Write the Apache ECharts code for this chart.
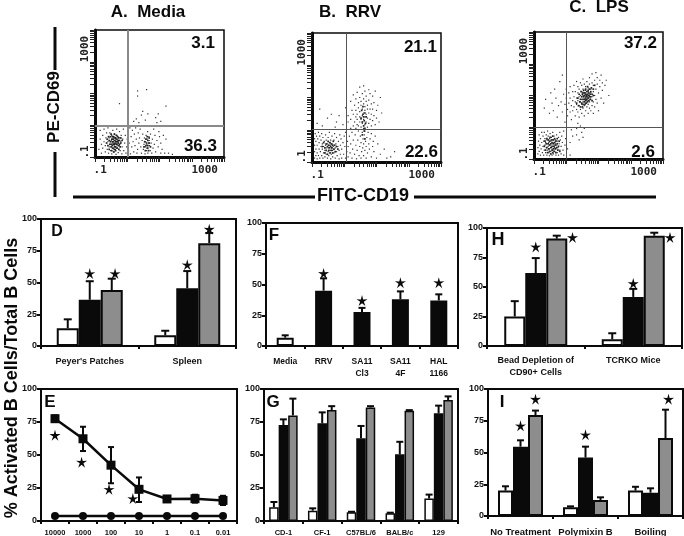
<!DOCTYPE html>
<html><head><meta charset="utf-8">
<script src="https://cdn.jsdelivr.net/npm/echarts@6/dist/echarts.min.js"></script>
<style>html,body{margin:0;padding:0;background:#fff}#c{width:684px;height:536px}</style></head>
<body><div id="c"></div>
<script>
// ---------- flow cytometry events (log-channel, 0-100 of each axis)
const flowADots = [[3,6],[4,14],[4,21],[5,3],[5,10],[6,17],[6,7],[7,12],[7,22],[8,4],[8,9],[8.5,15],[9,19],[9.5,6],[10,12],[10,23],[10.5,3],[11,8],[11,15],[11.5,19],[12,5],[12.3,10],[12.6,13],[13,2.5],[13,17],[13.4,7],[13.8,21],[14,11],[14.2,15],[14.7,4],[15,8.5],[15.2,18],[15.8,6],[16,14],[16.3,2],[16.5,10],[16.8,22],[17,17],[17.4,7],[17.8,12.5],[18,3.5],[18.2,15.5],[18.8,9],[19,20],[19.5,5],[20,12],[20.3,17],[20.8,2.5],[21,8],[21.5,14],[22,22],[22.3,5],[23,11],[23.5,17],[24,3],[24.5,8],[25,14],[25.5,20],[26,5],[26.5,11],[27,23],[27.5,2.5],[28,16],[28.5,8],[29,21],[29.5,12],[30,4],[30.5,18],[31,9],[31.5,23],[32,14],[32.5,3],[33,6],[33.5,19],[34,11],[34.5,15],[35,22],[35.5,8],[36,3],[36.5,13],[37,18],[37.5,6],[38,10],[38.3,15],[38.8,2.5],[39,8],[39.2,12],[39.6,17],[40,5],[40.2,9.5],[40.5,14],[40.8,20],[41,3],[41.2,7],[41.5,11],[41.8,16],[42,13],[42.3,9],[42.8,5],[43,18],[43.5,11],[44,3],[44.5,14],[45,7],[45.5,22],[46,10],[46.5,17],[47,4],[48,13],[49,8],[49.5,20],[50,16],[51,3],[51,11],[52,24],[52,6],[53,17],[54,3],[55,14],[57,3],[60,2],[30,28],[32,30],[34,27],[36,33],[37,36],[39,29],[41,34],[47,31],[48,27],[49,34],[51,28],[33,48],[33,52],[40,53],[55,40],[19,42]];
const flowACore = [[9,11],[9.5,14],[10,9],[10.5,16],[11,13],[11,6],[11.5,10],[12,16],[12,12],[12.5,8],[12.5,18],[13,10],[13,14],[13,5],[13.5,9],[13.5,12],[13.5,16],[14,7],[14,12],[14,14],[14.5,10],[14.5,16],[14.5,4],[15,6],[15,10],[15,13],[15,18],[15.5,8],[15.5,11],[15.5,15],[16,8],[16,12.5],[16,15],[16,5],[16.5,10],[16.5,12],[16.5,17],[17,7],[17,10],[17,14],[17.5,12],[17.5,16],[18,9],[18,11],[18,13],[18.5,6],[18.5,15],[19,10],[19,13],[19.5,8],[20,11],[20,15],[21,13],[38,8],[38.5,12],[39,5],[39.5,9],[39.5,14],[40,11],[40.5,7],[40.5,16],[41,9],[41,13],[41.5,5],[42,11],[42,15],[43,8]];
const flowBDots = [[2,3],[2,8],[2,13],[2,18],[2.5,22],[3,5],[3,10],[3,16],[3.5,20],[4,2.5],[4,7],[4,13],[4.5,18],[5,23],[5,5],[5.5,10],[5.5,15],[6,20],[6,3],[6.5,8],[7,12],[7,17],[7.5,5],[7.5,22],[8,10],[8,14],[8.5,3],[8.5,19],[9,7],[9,12],[9.5,16],[10,4],[10,9],[10.5,13],[10.5,21],[11,6],[11,17],[11.5,11],[12,3],[12,14],[12.5,8],[12.5,19],[13,5],[13,11],[13.5,15],[13.5,23],[14,9],[14,13],[14.5,2.5],[14.5,17],[15,6],[15,11],[15.5,14],[15.5,20],[16,4],[16,9],[16.5,12],[17,17],[17,7],[17.5,22],[18,3],[18,11],[18.5,14],[19,8],[19,19],[19.5,5],[20,12],[20.5,16],[21,2.5],[21,9],[21.5,21],[22,6],[22,13],[22.5,18],[23,3],[23,10],[24,15],[24.5,6],[25,20],[25.5,12],[26,3],[26,23],[27,8],[27.5,16],[28,4],[28,12],[29,20],[29.5,7],[30,14],[31,3],[31,23],[31.5,10],[32,17],[33,6],[33.5,21],[34,13],[34.5,2.5],[35,9],[35.5,17],[36,24],[36.5,5],[37,12],[37.5,20],[38,3],[38,15],[38.5,8],[39,23],[39.3,11],[39.6,18],[40,5],[40,14],[40.5,21],[41,9],[41,24],[41.5,16],[42,3],[42,12],[42.5,19],[43,7],[43.5,23],[44,14],[44.5,10],[45,18],[46,4],[46,22],[47,12],[47.5,16],[48,8],[49,20],[50,3],[51,14],[53,6],[56,10],[58,3],[61,4],[64,8],[4,30],[6,41],[8,28],[12,34],[15,37],[18,27],[19,31],[21,36],[24,29],[26,42],[28,31],[28,36],[30,26],[30,33],[30,47],[31,40],[32,28],[32,37],[32,52],[33,31],[33,44],[34,26],[34,35],[34,40],[34,49],[35,29],[35,33],[35,37],[35,54],[36,42],[36,46],[36,28],[37,31],[37,35],[37,39],[37,50],[37,58],[38,27],[38,44],[38,33],[38,47],[39,30],[39,36],[39,41],[39,53],[40,26],[40,33],[40,38],[40,45],[40,49],[40,59],[41,29],[41,35],[41,40],[41,43],[41,55],[42,31],[42,37],[42,47],[42,51],[43,27],[43,34],[43,41],[43,44],[44,30],[44,38],[44,48],[44,56],[45,33],[45,41],[45,53],[46,28],[46,37],[46,45],[47,32],[47,41],[47,51],[48,36],[48,46],[49,29],[49,55],[50,40],[50,34],[51,44],[52,31],[53,50],[54,38]];
const flowBCore = [[8,12],[9,15],[10,11],[10,7],[11,14],[11,9],[12,12],[12,6],[12.5,16],[13,9],[13,13],[13.5,11],[14,15],[14,7],[14.5,12],[15,9],[15,14],[15.5,11],[16,13],[16,7],[16.5,16],[17,10],[17.5,13],[18,8],[19,12],[20,10],[38,34],[39,31],[39.5,37],[40,28],[40,35],[40.5,32],[41,38],[41,26],[41.5,30],[42,35],[38.5,40],[39.5,43],[40.5,24],[39,21],[41,18]];
const flowCDots = [[3,4],[3,9],[3.5,14],[4,19],[4,6],[4.5,11],[5,3],[5,16],[5.5,8],[6,13],[6,21],[6.5,5],[7,10],[7,18],[7.5,3],[7.5,14],[8,7],[8,21],[8.5,11],[8.5,16],[9,5],[9,13],[9.5,9],[9.5,19],[10,3],[10,12],[10,15],[10.5,7],[10.5,22],[11,10],[11,18],[11.5,5],[11.5,13],[12,8],[12,16],[12,2.5],[12.5,11],[12.5,20],[13,6],[13,14],[13.5,9],[13.5,17],[14,3],[14,12],[14.5,7],[14.5,15],[14.5,21],[15,10],[15,4],[15.5,13],[15.5,18],[16,6],[16,9],[16.5,12],[16.5,15],[17,3],[17,8],[17.5,19],[17.5,11],[18,5],[18,14],[18.5,9],[19,17],[19,3],[19.5,12],[20,7],[20,21],[20.5,15],[21,10],[21,4],[21.5,18],[22,13],[22.5,7],[23,22],[23,3],[24,11],[24.5,16],[26,8],[28,13],[28,3],[30,18],[29,23],[33,19],[33,24],[35,15],[36,26],[37,21],[38,17],[39,24],[34,28],[8,40],[9,47],[12,36],[13,52],[14,44],[15,38],[16,55],[17,48],[18,33],[19,42],[20,61],[21,45],[22,66],[22,37],[23,51],[24,43],[24,29],[25,48],[25,55],[26,39],[26,34],[27,44],[27,52],[28,37],[28,48],[28,57],[29,42],[29,31],[30,46],[30,53],[30,38],[31,41],[31,49],[31,58],[32,34],[32,45],[32,53],[33,39],[33,43],[33,48],[33,61],[34,37],[34,46],[34,52],[34,57],[35,42],[35,49],[35,33],[35,55],[36,39],[36,45],[36,50],[36,60],[37,36],[37,43],[37,47],[37,53],[37,58],[38,40],[38,45],[38,50],[38,55],[38,63],[39,34],[39,42],[39,47],[39,52],[39,59],[40,38],[40,44],[40,49],[40,54],[40,57],[41,41],[41,46],[41,51],[41,61],[42,36],[42,43],[42,48],[42,53],[42,56],[43,40],[43,45],[43,50],[43,59],[43,64],[44,38],[44,47],[44,52],[44,55],[45,42],[45,49],[45,60],[45,67],[46,36],[46,45],[46,53],[46,58],[47,41],[47,50],[47,62],[48,47],[48,55],[48,68],[49,44],[49,59],[49,64],[50,52],[50,38],[51,57],[51,62],[52,48],[52,66],[53,54],[53,60],[54,44],[55,58],[56,62],[58,50]];
const flowCCore = [[8,10],[8.5,14],[9,7],[9.5,12],[10,16],[10,9],[10.5,5],[11,12],[11,15],[11.5,8],[12,11],[12,14],[12,6],[12.5,17],[13,9],[13,12],[13,4],[13.5,15],[14,7],[14,10],[14,13],[14.5,18],[14.5,5],[15,8],[15,12],[15,15],[15.5,10],[15.5,6],[16,13],[16,16],[16.5,8],[16.5,11],[17,5],[17,14],[17.5,9],[18,12],[18,16],[18.5,7],[19,10],[19.5,14],[20,6],[33,44],[34,48],[34.5,42],[35,51],[35.5,45],[36,47],[36,41],[36.5,53],[37,44],[37,49],[37.5,51],[37.5,41],[38,47],[38,43],[38,52],[38.5,49],[38.5,54],[39,45],[39,50],[39.5,47],[39.5,52],[39.5,43],[40,46],[40,48],[40,51],[40,55],[40.5,44],[40.5,50],[41,47],[41,49],[41,53],[41.5,45],[41.5,51],[41.5,57],[42,48],[42,50],[42,54],[42.5,46],[42.5,52],[43,49],[43,55],[43.5,51],[43.5,47],[44,53],[44,49],[44.5,56],[45,51],[45,46],[46,55],[46,50],[47,58]];
const quadX = [25.6, 26.4, 24.8], quadY = [24.4, 25.6, 25.2];
const flowTickLabels = ['.1', '1000'], flowLabelAt = [4, 85];
const decadeMultipliers = [1,2,3,4,5,6,7,8,9];
const flowTitles = ['A.  Media','B.  RRV','C.  LPS'];
const flowUL = ['3.1','21.1','37.2'], flowLR = ['36.3','22.6','2.6'];
// ---------- bar panels : [white, black, grey] with upper error bar tops
const catsD = ["Peyer's Patches","Spleen"];
const whiteD=[14,8.4], blackD=[36.4,45.5], greyD=[44,81];
const whiteDErr=[21,12], blackDErr=[51,59], greyDErr=[53,89];
const starsD=[[0,1,57,0],[0,2,57,.15],[1,1,64,0],[1,2,92,0]];
const catsF=['Media','RRV','SA11\nCl3','SA11\n4F','HAL\n1166'];
const valsF=[6.8,45,27.6,38,37], errF=[8.7,55,31,44.4,42];
const starsF=[[1,0,59,0],[2,0,37,0],[3,0,51.5,0],[4,0,51.5,0]];
const catsG=['CD-1','CF-1','C57BL/6','BALB/c','129'];
const whiteG=[10.4,7.8,6.6,5.8,17], blackG=[72.7,74,62.6,50.5,81.6], greyG=[80,84,86,83.6,91.7];
const whiteGErr=[14.4,9.6,7,6.3,20], blackGErr=[77,82.3,72,60,87.4], greyGErr=[92.7,87,87,84,94.4];
const catsH=['Bead Depletion of\nCD90+ Cells','TCRKO Mice'];
const whiteH=[25,5.7], blackH=[61.8,41.6], greyH=[91,93.5];
const whiteHErr=[38,10.8], blackHErr=[74.5,48.4], greyHErr=[93.5,96];
const starsH=[[0,1,84,0],[0,2,92,.75],[1,1,53,0],[1,2,92,.75]];
const catsI=['No Treatment','Polymixin B','Boiling'];
const whiteI=[20,6.8,20], blackI=[54.6,46,18.4], greyI=[79.5,12.6,61.4];
const whiteIErr=[23.4,7.6,23], blackIErr=[59.6,54.6,21.8], greyIErr=[83,14.7,83.7];
const starsI=[[0,1,71,0],[0,2,92,0],[1,1,64,0],[2,2,92,.2]];
const catsE=['10000','1000','100','10','1','0.1','0.01'];
const squaresE=[77.5,62.3,42.3,24,16.7,16.9,15.6];
const squaresELow=[75,53,28.6,14.4,14.7,13.9,12.1], squaresEHigh=[80,71.4,56,33,18.7,19.9,19.1];
const circlesE=[3.8,3.8,3.8,3.8,3.8,3.8,3.8];
const starsE=[[0,65,0],[1,44.6,-.05],[2,24,-.07],[3,17,-.22]];

const INK='#0a0a0a', GREY='#8d8d8d', FONT='"Liberation Sans",Arial,sans-serif';
const STAR='path://M10 0L12 7.25L19.5 6.9L13.2 11.05L15.9 18.1L10 13.4L4.1 18.1L6.8 11.05L.5 6.9L8 7.25Z';
const grid=[],xAxis=[],yAxis=[],series=[],graphic=[];

const decadeTicks=[];
for(let d=0;d<4;d++)for(const m of decadeMultipliers)decadeTicks.push(25*d+25*Math.log10(m));
decadeTicks.push(100);

function flowPanel(i,box){
  const g=grid.length;
  grid.push({left:box[0],top:box[1],width:box[2],height:box[3],outerBoundsMode:'none',show:true,borderColor:INK,borderWidth:1.5,backgroundColor:'transparent'});
  const axisBase={type:'value',min:0,max:100,splitLine:{show:false},gridIndex:g,
    axisLine:{show:true,onZero:false,lineStyle:{color:INK,width:3}},
    axisTick:{show:true,customValues:decadeTicks,length:5,inside:false,lineStyle:{color:'#222',width:1}},
    axisLabel:{show:true,customValues:flowLabelAt,formatter:v=>flowTickLabels[flowLabelAt.indexOf(v)]||'',
      fontFamily:'"DejaVu Sans Mono",monospace',fontWeight:'bold',fontSize:11,color:'#222',margin:8}};
  xAxis.push(axisBase);
  yAxis.push(Object.assign({},axisBase,{axisLabel:Object.assign({},axisBase.axisLabel,{rotate:90,margin:4})}));
  const a=xAxis.length-1;
  const sets=[[flowADots,flowBDots,flowCDots][i],[flowACore,flowBCore,flowCCore][i]];
  series.push({type:'scatter',xAxisIndex:a,yAxisIndex:a,data:sets[0],symbol:'rect',symbolSize:1.2,itemStyle:{color:'#333',opacity:1},silent:true,animation:false,
    markLine:{silent:true,symbol:'none',animation:false,label:{show:false},
      lineStyle:{color:i==0?'#8a8a8a':'#555',width:i==0?2:1,type:'solid',opacity:1},
      data:[{xAxis:quadX[i]},{yAxis:quadY[i]}]}});
  series.push({type:'scatter',xAxisIndex:a,yAxisIndex:a,data:sets[1],symbol:'rect',symbolSize:1.7,itemStyle:{color:'#222',opacity:1},silent:true,animation:false});
}
function addAxes(box,cats,labelSize,labelMargin){
  const g=grid.length;
  grid.push({left:box[0],top:box[1],width:box[2],height:box[3],outerBoundsMode:'none',show:true,borderColor:INK,borderWidth:2,backgroundColor:'transparent'});
  xAxis.push({type:'category',gridIndex:g,data:cats,
    axisLine:{onZero:false,lineStyle:{color:INK,width:2}},axisTick:{show:true,length:3,alignWithLabel:false,lineStyle:{color:INK,width:2}},
    axisLabel:{interval:0,fontFamily:FONT,fontWeight:'bold',fontSize:labelSize,color:'#111',margin:labelMargin,lineHeight:12}});
  const cat=xAxis.length-1;
  xAxis.push({type:'value',gridIndex:g,show:false,min:-.5,max:cats.length-.5});
  const val=xAxis.length-1;
  yAxis.push({type:'value',gridIndex:g,min:0,max:100,interval:25,splitLine:{show:false},
    axisLine:{show:true,onZero:false,lineStyle:{color:INK,width:2}},axisTick:{show:true,length:4,lineStyle:{color:INK,width:2}},
    axisLabel:{fontFamily:FONT,fontWeight:'bold',fontSize:9,color:'#111',margin:4}});
  const y=yAxis.length-1;
  return {cat,val,y};
}
function errorSeries(ax,rows,cap,both){
  series.push({type:'custom',xAxisIndex:ax.val,yAxisIndex:ax.y,z:4,silent:true,animation:false,data:rows,encode:{x:0,y:[1,2]},
    renderItem(p,api){
      const x=api.value(0),a=api.coord([x,api.value(1)]),b=api.coord([x,api.value(2)]);
      const st={stroke:INK,lineWidth:2,fill:null};
      const kids=[{type:'line',shape:{x1:a[0],y1:a[1],x2:b[0],y2:b[1]},style:st},
        {type:'line',shape:{x1:b[0]-cap,y1:b[1],x2:b[0]+cap,y2:b[1]},style:st}];
      if(both)kids.push({type:'line',shape:{x1:a[0]-cap,y1:a[1],x2:a[0]+cap,y2:a[1]},style:st});
      return {type:'group',children:kids};
    }});
}
function starSeries(ax,pts){
  series.push({type:'scatter',xAxisIndex:ax.val,yAxisIndex:ax.y,z:5,data:pts,symbol:STAR,symbolSize:11,itemStyle:{color:INK,opacity:1},silent:true,animation:false});
}
function barPanel(box,cats,vals,errs,stars,barW,cap,labelSize,margin,colors,border){
  const ax=addAxes(box,cats,labelSize,margin);
  const frac=barW/(box[2]/cats.length), n=vals.length, cols=['#fff',INK,GREY];
  vals.forEach((v,s)=>{
    series.push({type:'bar',xAxisIndex:ax.cat,yAxisIndex:ax.y,barWidth:barW,barGap:0,z:3,animation:false,silent:true,
      data:v.map((d,i)=>({value:d,itemStyle:{color:colors?colors[i]:cols[s],borderColor:INK,borderWidth:border||2}}))});
    errorSeries(ax,v.map((d,i)=>[i+(s-(n-1)/2)*frac,d,errs[s][i]]),cap,false);
  });
  starSeries(ax,stars.map(t=>[t[0]+(t[1]-(n-1)/2+t[3])*frac,t[2]]));
}
function text(str,x,y,size,opt){
  graphic.push(Object.assign({type:'text',x,y,silent:true,style:Object.assign({text:str,font:`bold ${size}px ${FONT}`,fill:INK,textAlign:'center',textVerticalAlign:'middle'},opt&&opt.style)},opt&&opt.el));
}
function rule(x1,y1,x2,y2){graphic.push({type:'line',silent:true,shape:{x1,y1,x2,y2},style:{stroke:INK,lineWidth:3}});}

flowPanel(0,[95,30,129,127]);
flowPanel(1,[312,33,129,129]);
flowPanel(2,[534,32,129,127]);

barPanel([41,219,195,127],catsD,[whiteD,blackD,greyD],[whiteDErr,blackDErr,greyDErr],starsD,22,4,9,10);
barPanel([266,223,192,123],catsF,[valsF],[errF],starsF,17,3.5,8.5,10,['#fff',INK,INK,INK,INK]);
barPanel([264,389,194,132],catsG,[whiteG,blackG,greyG],[whiteGErr,blackGErr,greyGErr],[],9.5,3.5,7.5,6,null,1.5);
barPanel([487,228,195,118],catsH,[whiteH,blackH,greyH],[whiteHErr,blackHErr,greyHErr],starsH,21,4,9,9);
barPanel([488,389,195,127],catsI,[whiteI,blackI,greyI],[whiteIErr,blackIErr,greyIErr],starsI,15,3.5,9.5,10);

// panel E: dose response
(function(){
  const ax=addAxes([41,389,196,132],catsE,7.5,6);
  series.push({type:'line',xAxisIndex:ax.cat,yAxisIndex:ax.y,data:circlesE,z:3,symbol:'circle',symbolSize:8,lineStyle:{color:INK,width:2.5},itemStyle:{color:INK},animation:false,silent:true});
  series.push({type:'line',xAxisIndex:ax.cat,yAxisIndex:ax.y,data:squaresE,z:3,symbol:'rect',symbolSize:9,lineStyle:{color:INK,width:2.5},itemStyle:{color:INK},animation:false,silent:true});
  errorSeries(ax,squaresE.map((v,i)=>[i,squaresELow[i],squaresEHigh[i]]),3,true);
  starSeries(ax,starsE.map(t=>[t[0]+t[2],t[1]]));
})();

// titles, quadrant percentages, shared axis titles, panel letters
text(flowTitles[0],148,12,17); text(flowTitles[1],350,12,17); text(flowTitles[2],599,7,17);
[[215,43,217,146],[437,47,438,152],[657,43,655,152]].forEach((p,i)=>{
  text(flowUL[i],p[0],p[1],17,{style:{textAlign:'right'}});
  text(flowLR[i],p[2],p[3],17,{style:{textAlign:'right'}});
});
text('PE-CD69',54,107,17,{el:{rotation:Math.PI/2}});
text('FITC-CD19',363,196,18);
rule(55,27,55,70); rule(55,152,55,197); rule(73,197,315,197); rule(414,197,656,197);
text('% Activated B Cells/Total B Cells',12,378,18,{el:{rotation:Math.PI/2}});
[['D',57,232,16],['F',274,235,17],['E',50,402,17],['G',273,402,17],['H',498,240,18],['I',502,402,17]].forEach(l=>text(l[0],l[1],l[2],l[3]));

const chart=echarts.init(document.getElementById('c'),null,{renderer:'canvas'});
chart.setOption({animation:false,backgroundColor:'#fff',grid,xAxis,yAxis,series,graphic:{elements:graphic}});
</script></body></html>
